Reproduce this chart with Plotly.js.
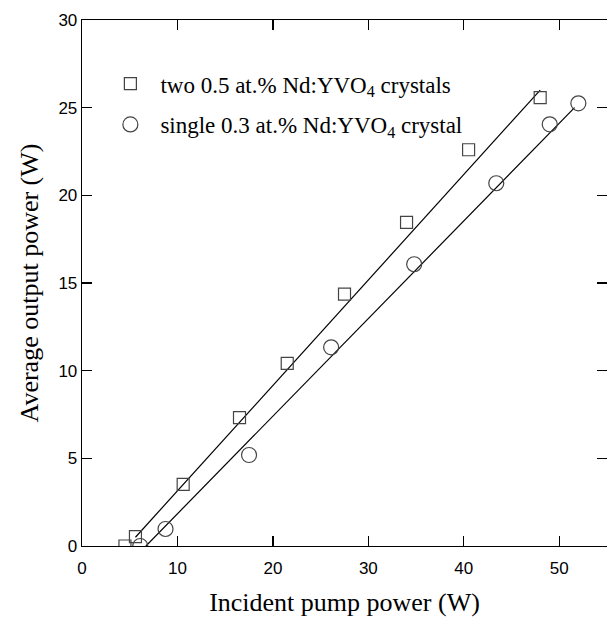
<!DOCTYPE html>
<html>
<head>
<meta charset="utf-8">
<script src="https://cdn.plot.ly/plotly-3.0.1.min.js"></script>
<style>html,body{margin:0;padding:0;background:#fff;}#chart{width:607px;height:619px;}</style>
</head>
<body>
<div id="chart"></div>
<script>
// Data
var twoX = [4.5, 5.6, 10.6, 16.5, 21.5, 27.5, 34.0, 40.5, 48.0];
var twoY = [0.0, 0.53, 3.52, 7.32, 10.42, 14.36, 18.46, 22.6, 25.57];
var singleX = [6.1, 8.75, 17.5, 26.1, 34.8, 43.4, 49.0, 52.0];
var singleY = [0.0, 0.97, 5.19, 11.33, 16.07, 20.69, 24.05, 25.25];
// Linear fit lines (endpoints)
var twoFitX = [5.6, 48.0];
var twoFitY = [0.5, 26.0];
var singleFitX = [6.7, 51.6];
var singleFitY = [0.0, 25.0];
var xTicks = [0, 10, 20, 30, 40, 50];
var yTicks = [0, 5, 10, 15, 20, 25, 30];
var legendNames = ['two 0.5 at.% Nd:YVO<sub>4</sub> crystals', 'single 0.3 at.% Nd:YVO<sub>4</sub> crystal'];

var traces = [
  {x: twoFitX, y: twoFitY, mode: 'lines', line: {color: '#000', width: 1.2}, showlegend: false, hoverinfo: 'skip'},
  {x: singleFitX, y: singleFitY, mode: 'lines', line: {color: '#000', width: 1.2}, showlegend: false, hoverinfo: 'skip'},
  {x: twoX, y: twoY, mode: 'markers', name: legendNames[0], legendgroup: 'a',
   marker: {symbol: 'square-open', size: 12, color: '#444', line: {width: 1.2}}},
  {x: singleX, y: singleY, mode: 'markers', name: legendNames[1], legendgroup: 'b',
   marker: {symbol: 'circle-open', size: 15, color: '#444', line: {width: 1.2}}}
];

var axisCommon = {
  showgrid: false, zeroline: false, showline: true, linecolor: '#000', linewidth: 1.3,
  mirror: 'ticks', ticks: 'inside', ticklen: 10, tickwidth: 1.3, tickcolor: '#000',
  tickfont: {family: 'Liberation Sans, Arial, sans-serif', size: 17, color: '#000'}
};

var layout = {
  width: 607, height: 619,
  margin: {l: 82, r: 0, t: 20, b: 73},
  paper_bgcolor: '#fff', plot_bgcolor: '#fff',
  xaxis: Object.assign({}, axisCommon, {
    range: [0, 55], tickvals: xTicks, ticklabelstandoff: 6,
    title: {text: 'Incident pump power (W)', font: {family: 'Liberation Serif, Times New Roman, serif', size: 26, color: '#000'}, standoff: 16}
  }),
  yaxis: Object.assign({}, axisCommon, {
    range: [0, 30], tickvals: yTicks,
    title: {text: 'Average output power (W)', font: {family: 'Liberation Serif, Times New Roman, serif', size: 26, color: '#000'}, standoff: 12}
  }),
  legend: {
    x: 0.035, y: 0.92, xanchor: 'left', yanchor: 'top',
    bgcolor: 'rgba(0,0,0,0)', borderwidth: 0, itemwidth: 50,
    font: {family: 'Liberation Serif, Times New Roman, serif', size: 23, color: '#000'},
    tracegroupgap: 8, traceorder: 'grouped'
  },
  showlegend: true
};

Plotly.newPlot('chart', traces, layout, {displayModeBar: false, staticPlot: true});
</script>
</body>
</html>
